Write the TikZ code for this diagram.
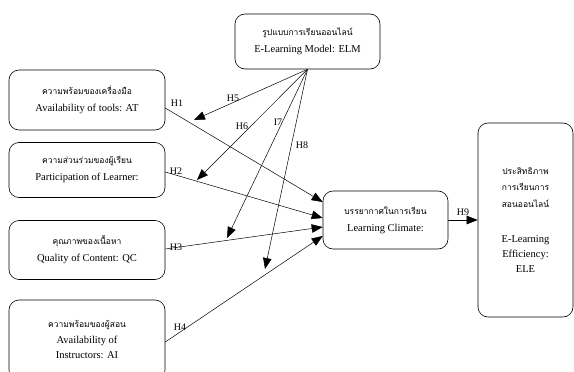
\documentclass[tikz,border=0pt]{standalone}
\usepackage{fontspec}
\setmainfont{Liberation Serif}
\newfontfamily\thaifont[Script=Thai]{Loma}
\usetikzlibrary{positioning,arrows.meta}
\tikzset{
  construct/.style={draw,line width=0.6pt,rounded corners=10pt,align=center,
    font=\fontsize{10.5}{17}\selectfont},
  hyp/.style={line width=0.5pt,-{Triangle[length=11pt,width=8.5pt]}},
  hlabel/.style={font=\fontsize{10}{10}\selectfont,inner sep=0pt},
}
\newcommand{\thaitext}[1]{{\thaifont\fontsize{8.5}{17}\selectfont #1}}

\begin{document}
\begin{tikzpicture}[x=1pt,y=-1pt]
\useasboundingbox (0,0) rectangle (574,372);
% independent variables
\node[construct,minimum width=156pt,minimum height=60pt] (at) at (87,100)
  {\thaitext{ความพร้อมของเครื่องมือ}\\Availability of tools: AT};
\node[construct,minimum width=156pt,minimum height=55pt] (pl) at (87,170)
  {\thaitext{ความส่วนร่วมของผู้เรียน}\\Participation of Learner:};
\node[construct,minimum width=156pt,minimum height=59pt] (qc) at (87,250)
  {\thaitext{คุณภาพของเนื้อหา}\\Quality of Content: QC};
\node[construct,minimum width=156pt,minimum height=80pt] (ai) at (87,340)
  {\thaitext{ความพร้อมของผู้สอน}\\[-1pt]Availability of\\[-2pt]Instructors: AI};
% moderator, mediator, outcome
\node[construct,minimum width=145pt,minimum height=55pt] (elm) at (307.5,41.5)
  {\thaitext{รูปแบบการเรียนออนไลน์}\\E-Learning Model: ELM};
\node[construct,minimum width=125pt,minimum height=58pt] (lc) at (385.5,220)
  {\thaitext{บรรยากาศในการเรียน}\\Learning Climate:};
\node[construct,minimum width=95pt,minimum height=194pt,
  font=\fontsize{10.5}{15}\selectfont] (ele) at (525.5,220)
  {\thaitext{ประสิทธิภาพ}\\[1.5pt]\thaitext{การเรียนการ}\\[1.5pt]\thaitext{สอนออนไลน์}\\[20pt]
   E-Learning\\Efficiency:\\ELE};

% H1--H4 into the learning climate
\draw[hyp] ([yshift=-8pt]at.east) -- ([yshift=18pt]lc.west);
\draw[hyp] ([yshift=-2pt]pl.east) -- ([yshift=2pt]lc.west);
\draw[hyp] ([yshift=1pt]qc.east) -- ([yshift=-7pt]lc.west);
\draw[hyp] ([yshift=-2pt]ai.east) -- ([yshift=-16pt]lc.west);
\draw[hyp] (lc.east) -- (ele.west);

% H5--H8 fan out of the model box
\foreach \n/\x/\y in {t5/194/120,t6/197/180,t7/227/238,t8/265/269}{
  \coordinate (\n) at (\x,\y);
  \draw[hyp] (elm.south) -- (\n);
}

\foreach \n/\t/\x/\y in {h1/H1/177/103,h2/H2/176/171,h3/H3/176/247,h4/H4/180/327,
  h5/H5/233/98,h6/H6/242/126,i7/I7/278/122,h8/H8/302/145,h9/H9/463/212}
  \node[hlabel] (\n) at (\x,\y) {\t};
\end{tikzpicture}
\end{document}
